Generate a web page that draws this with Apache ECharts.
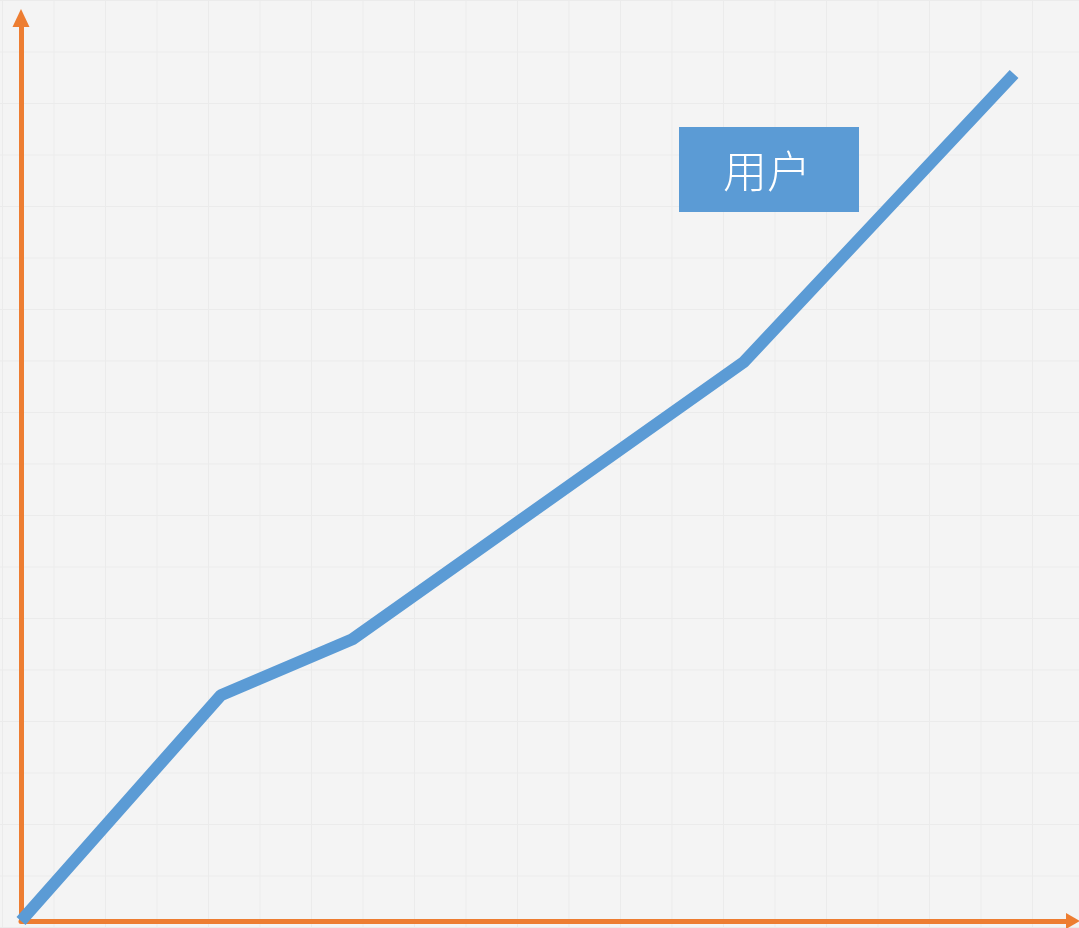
<!DOCTYPE html>
<html>
<head>
<meta charset="utf-8">
<script src="https://cdn.jsdelivr.net/npm/echarts@6/dist/echarts.min.js"></script>
<style>
  html, body { margin: 0; padding: 0; }
  /* 背景浅灰网格 */
  #chart {
    width: 1079px;
    height: 928px;
    background-color: #f4f4f4;
    background-image:
      linear-gradient(to right, #ebebeb 1px, transparent 1px),
      linear-gradient(to bottom, #ebebeb 1px, transparent 1px);
    background-size: 51.5px 51.5px;
    background-position: 2px 0px;
  }
</style>
</head>
<body>
<div id="chart"></div>
<script>
// 用户增长折线数据
const xValues = [0, 19, 31.5, 68.7, 94.4];
const userValues = [0, 25, 31.2, 61.9, 93.8];
const seriesName = '用户';

const chart = echarts.init(document.getElementById('chart'));

const axisColor = '#ed7d31';
const lineColor = '#5b9bd5';

chart.setOption({
  animation: false,
  grid: {
    left: 21,
    right: 6,
    top: 18,
    bottom: 7
  },
  xAxis: {
    type: 'value',
    min: 0,
    max: 100,
    axisLine: {
      onZero: false,
      symbol: ['none', 'triangle'],
      symbolSize: [16, 14],
      lineStyle: { color: axisColor, width: 5 }
    },
    axisTick: { show: false },
    axisLabel: { show: false },
    splitLine: { show: false }
  },
  yAxis: {
    type: 'value',
    min: 0,
    max: 100,
    axisLine: {
      show: true,
      onZero: false,
      symbol: ['none', 'triangle'],
      symbolSize: [17, 18],
      lineStyle: { color: axisColor, width: 5 }
    },
    axisTick: { show: false },
    axisLabel: { show: false },
    splitLine: { show: false }
  },
  series: [
    {
      name: seriesName,
      type: 'line',
      data: xValues.map((x, i) => [x, userValues[i]]),
      symbol: 'none',
      lineStyle: {
        color: lineColor,
        width: 12,
        cap: 'butt',
        join: 'bevel'
      }
    }
  ],
  graphic: [
    {
      type: 'group',
      left: 679,
      top: 127,
      children: [
        {
          type: 'rect',
          shape: { x: 0, y: 0, width: 180, height: 85 },
          style: { fill: lineColor }
        },
        {
          type: 'text',
          x: 88,
          y: 44,
          style: {
            text: seriesName,
            fill: '#fff',
            font: '300 44px "Noto Sans CJK SC"',
            align: 'center',
            verticalAlign: 'middle'
          }
        }
      ]
    }
  ]
});
</script>
</body>
</html>
